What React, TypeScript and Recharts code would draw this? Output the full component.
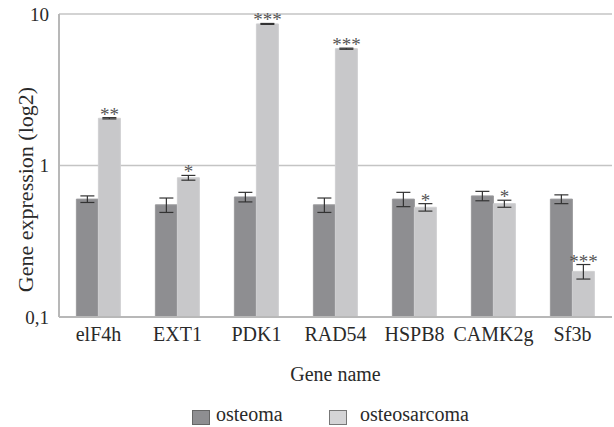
import React from "react";
import {
  BarChart,
  Bar,
  XAxis,
  YAxis,
  CartesianGrid,
  ErrorBar,
  LabelList,
  Legend,
  Label,
} from "recharts";

const genes = ["elF4h", "EXT1", "PDK1", "RAD54", "HSPB8", "CAMK2g", "Sf3b"];
const osteoma = [0.6, 0.55, 0.62, 0.55, 0.6, 0.63, 0.6];
const osteomaErr = [0.03, 0.06, 0.045, 0.06, 0.065, 0.045, 0.04];
const osteosarcoma = [2.05, 0.83, 8.6, 5.9, 0.53, 0.56, 0.2];
const osteosarcomaErr = [0.02, 0.03, 0.06, 0.05, 0.03, 0.03, 0.022];
const significance = ["**", "*", "***", "***", "*", "*", "***"];
const yTicks = [0.1, 1, 10];

const FONT = "'Liberation Serif', 'Times New Roman', serif";
const DARK = "#8e8e91";
const LIGHT = "#c8c8ca";
const TEXT = "#2a2a2a";

const data = genes.map((g, i) => ({
  gene: g,
  osteoma: osteoma[i],
  osteomaErr: osteomaErr[i],
  osteosarcoma: osteosarcoma[i],
  osteosarcomaErr: osteosarcomaErr[i],
  sig: significance[i],
}));

// star label sits just above the error bar; error top is derived from the bar's own log geometry
const StarLabel = (props: any) => {
  const { x, y, width, height, index } = props;
  const v = osteosarcoma[index];
  const e = osteosarcomaErr[index];
  const pxPerDecade = height / Math.log10(v / 0.1);
  const errTop = y - pxPerDecade * Math.log10((v + e) / v);
  return (
    <text
      x={x + width / 2}
      y={errTop + 3}
      textAnchor="middle"
      fontFamily={FONT}
      fontSize={19}
      fill="#555"
    >
      {significance[index]}
    </text>
  );
};

const YTitle = (props: any) => {
  const vb = props.viewBox;
  const cx = vb.x + 25;
  const cy = vb.y + vb.height / 2 + 24;
  return (
    <text
      x={cx}
      y={cy}
      transform={`rotate(-90, ${cx}, ${cy})`}
      textAnchor="middle"
      dominantBaseline="central"
      fontFamily={FONT}
      fontSize={22}
      fill={TEXT}
    >
      Gene expression (log2)
    </text>
  );
};

const LegendBox = () => (
  <div
    style={{
      position: "relative",
      height: 40,
      fontFamily: FONT,
      fontSize: 20,
      color: TEXT,
    }}
  >
    <span
      style={{
        position: "absolute",
        left: 192,
        top: 23,
        width: 16,
        height: 13,
        background: DARK,
        border: "1px solid #666",
      }}
    />
    <span style={{ position: "absolute", left: 216, top: 15, lineHeight: "24px" }}>
      osteoma
    </span>
    <span
      style={{
        position: "absolute",
        left: 329,
        top: 23,
        width: 16,
        height: 13,
        background: "#d4d4d6",
        border: "1px solid #777",
      }}
    />
    <span style={{ position: "absolute", left: 360, top: 15, lineHeight: "24px" }}>
      osteosarcoma
    </span>
  </div>
);

export default function App() {
  return (
    <div style={{ position: "absolute", left: 0, top: 0, background: "#fff" }}>
      <BarChart
        width={614}
        height={427}
        data={data}
        margin={{ top: 14, right: 2, left: 0, bottom: 0 }}
        barGap={0}
        barCategoryGap="22%"
      >
        <CartesianGrid vertical={false} stroke="#c4c4c4" strokeWidth={1.5} />
        <XAxis
          dataKey="gene"
          height={70}
          tickLine={false}
          axisLine={{ stroke: "#b8b8b8", strokeWidth: 2 }}
          tick={{ fontFamily: FONT, fontSize: 20, fill: TEXT }}
          tickMargin={4}
        >
          <Label
            value="Gene name"
            position="insideBottom"
            offset={6}
            style={{ fontFamily: FONT, fontSize: 20, fill: TEXT }}
          />
        </XAxis>
        <YAxis
          scale="log"
          domain={[0.1, 10]}
          ticks={yTicks}
          allowDataOverflow
          width={59}
          tickLine={false}
          axisLine={{ stroke: "#b8b8b8", strokeWidth: 2 }}
          tick={{ fontFamily: FONT, fontSize: 19, fill: TEXT }}
          tickMargin={4}
          tickFormatter={(v: number) => (v === 0.1 ? "0,1" : String(v))}
        >
          <Label content={YTitle} />
        </YAxis>
        <Legend
          verticalAlign="bottom"
          height={40}
          content={() => <LegendBox />}
          wrapperStyle={{ left: 0, width: 614 }}
        />
        <Bar dataKey="osteoma" fill={DARK} stroke="#9a9a9d" isAnimationActive={false}>
          <ErrorBar dataKey="osteomaErr" width={7} stroke="#333" strokeWidth={1.2} />
        </Bar>
        <Bar dataKey="osteosarcoma" fill={LIGHT} stroke="#d0d0d2" isAnimationActive={false}>
          <ErrorBar dataKey="osteosarcomaErr" width={7} stroke="#333" strokeWidth={1.2} />
          <LabelList dataKey="sig" content={StarLabel} />
        </Bar>
      </BarChart>
    </div>
  );
}
